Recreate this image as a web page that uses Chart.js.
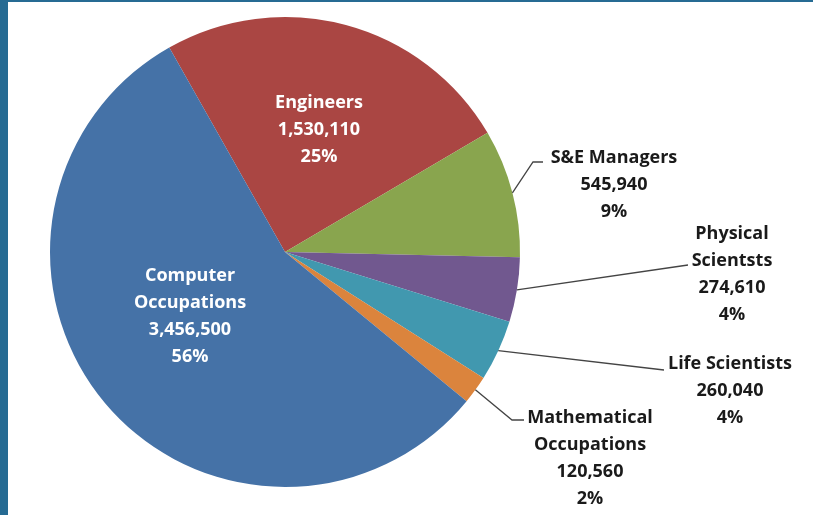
<!DOCTYPE html>
<html>
<head>
<meta charset="utf-8">
<script src="https://cdn.jsdelivr.net/npm/chart.js@4"></script>
<style>
  html, body { margin: 0; padding: 0; background: #fff; }
  canvas { display: block; }
</style>
</head>
<body>
<canvas id="chart" width="813" height="515"></canvas>
<script>
// S&E occupations, employment counts
const categories = [
  "Engineers",
  "S&E Managers",
  "Physical\nScientsts",
  "Life Scientists",
  "Mathematical\nOccupations",
  "Computer\nOccupations",
];
const employment = [1530110, 545940, 274610, 260040, 120560, 3456500];
const sliceColors = ["#AA4643", "#89A54E", "#71588F", "#4198AF", "#DB843D", "#4572A7"];

// label placement: centre x, first line y, leader bend points (null = inside label)
const labelLayout = [
  { x: 319, y: 103, color: "#fff", leader: null },
  { x: 614, y: 158, color: "#1a1a1a", leader: [[533, 162], [543, 162]] },
  { x: 732, y: 234, color: "#1a1a1a", leader: [[688, 265]] },
  { x: 730, y: 364, color: "#1a1a1a", leader: [[664, 370]] },
  { x: 590, y: 418, color: "#1a1a1a", leader: [[512, 420], [524, 420]] },
  { x: 190, y: 276, color: "#fff", leader: null },
];

const FONT = 'bold 18px "Open Sans", Lato, sans-serif';
const LINE_H = 27;

const total = employment.reduce((a, b) => a + b, 0);

const framePlugin = {
  id: "frame",
  beforeDraw(chart) {
    const c = chart.ctx;
    c.save();
    c.fillStyle = "#fff";
    c.fillRect(0, 0, chart.width, chart.height);
    c.restore();
  },
  afterDraw(chart) {
    const c = chart.ctx;
    c.save();
    c.fillStyle = "#266B93";
    c.fillRect(0, 0, 8, chart.height);
    c.fillRect(0, 0, chart.width, 2);
    c.restore();
  },
};

const pieLabels = {
  id: "pieLabels",
  afterDatasetsDraw(chart) {
    const c = chart.ctx;
    const arcs = chart.getDatasetMeta(0).data;
    c.save();
    c.font = FONT;
    c.textAlign = "center";
    c.textBaseline = "middle";
    arcs.forEach((arc, i) => {
      const lay = labelLayout[i];
      const val = employment[i];
      const lines = categories[i].split("\n").concat([
        val.toLocaleString("en-US"),
        Math.round((val / total) * 100) + "%",
      ]);
      if (lay.leader) {
        const mid = (arc.startAngle + arc.endAngle) / 2;
        c.beginPath();
        c.moveTo(arc.x + Math.cos(mid) * arc.outerRadius, arc.y + Math.sin(mid) * arc.outerRadius);
        lay.leader.forEach(([px, py]) => c.lineTo(px, py));
        c.strokeStyle = "#444";
        c.lineWidth = 1.3;
        c.stroke();
      }
      c.fillStyle = lay.color;
      lines.forEach((t, k) => c.fillText(t, lay.x, lay.y + k * LINE_H));
    });
    c.restore();
  },
};

new Chart(document.getElementById("chart"), {
  type: "pie",
  data: {
    labels: categories,
    datasets: [
      {
        data: employment,
        backgroundColor: sliceColors,
        borderWidth: 0,
      },
    ],
  },
  options: {
    responsive: false,
    animation: false,
    rotation: -29.5,
    layout: {
      padding: { left: 50, right: 293, top: 17, bottom: 28 },
    },
    plugins: {
      legend: { display: false },
      tooltip: { enabled: false },
    },
  },
  plugins: [framePlugin, pieLabels],
});
</script>
</body>
</html>
